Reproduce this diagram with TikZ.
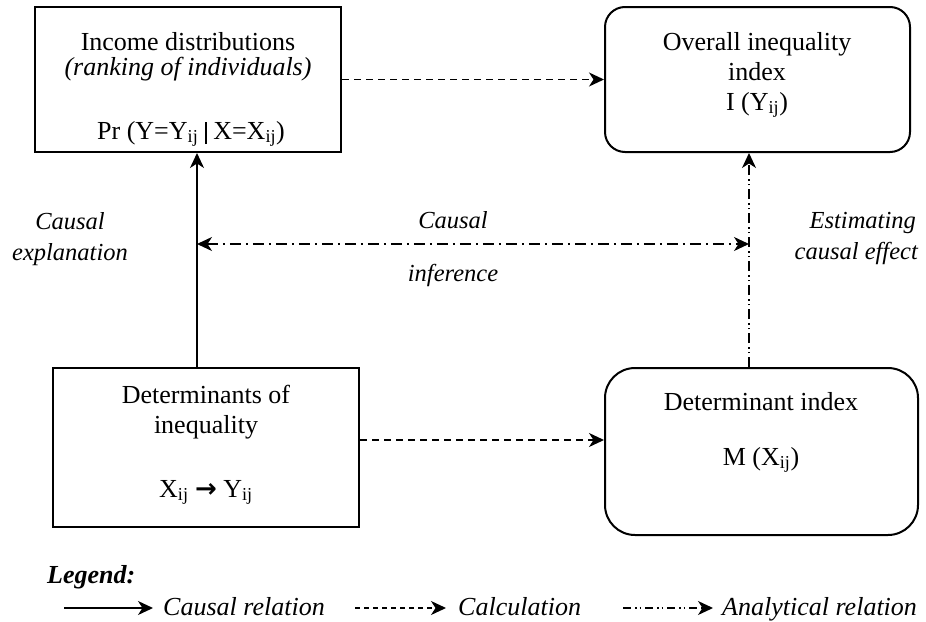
\documentclass[tikz,border=0pt]{standalone}
\usepackage{fontspec}
\setmainfont{Liberation Serif}
\newfontfamily\symfont{DejaVu Sans}
\usetikzlibrary{arrows.meta}
\newcommand\sbij{\textsubscript{ij}}
\tikzset{
  txt/.style={font=\fontsize{26}{30}\selectfont, inner sep=0pt, anchor=base},
  itxt/.style={font=\fontsize{24.5}{30}\selectfont\itshape, inner sep=0pt, anchor=base},
  box/.style={draw, line width=2pt, inner sep=0pt},
  headtip/.tip={Stealth[length=15pt,width=14pt,inset=4.5pt]},
  causalline/.style={-headtip, line width=1.6pt},
  calcline/.style={-headtip, line width=1.6pt, dash pattern=on 7pt off 5pt},
  anaH/.style={headtip-headtip, line width=1.6pt, dash pattern=on 11pt off 5pt on 2pt off 5pt},
  anaV/.style={-headtip, line width=1.4pt, dash pattern=on 10pt off 4pt on 1.5pt off 3pt on 1.5pt off 4pt},
  legcalc/.style={-headtip, line width=1.6pt, dash pattern=on 5pt off 4pt},
  legana/.style={-headtip, line width=1.6pt, dash pattern=on 8pt off 4pt on 1.5pt off 3pt on 1.5pt off 4pt},
}
\begin{document}
\begin{tikzpicture}[x=1pt,y=-1pt]
\useasboundingbox (0,0) rectangle (926,621);
% boxes
\node[box, minimum width=306pt, minimum height=145pt] (inc) at (188,79.5) {};
\node[box, rounded corners=20pt, minimum width=305pt, minimum height=145pt] (ov) at (757.5,79.5) {};
\node[box, minimum width=306pt, minimum height=159pt] (det) at (206,447.5) {};
\node[box, rounded corners=30pt, minimum width=313pt, minimum height=167pt] (di) at (761.5,451.5) {};
% box texts
\node[txt] (inc1) at (188,50) {Income distributions};
\node[txt, font=\fontsize{26}{30}\selectfont\itshape] (inc2) at (188,75) {(ranking of individuals)};
\node[txt] (inc3) at (191,139) {Pr (Y=Y\sbij{} \raisebox{-5pt}{\rule{2pt}{22pt}} X=X\sbij)};
\node[txt] (ov1) at (757,50) {Overall inequality};
\node[txt] (ov2) at (757,80) {index};
\node[txt] (ov3) at (757,110) {I (Y\sbij)};
\node[txt] (det1) at (206,403) {Determinants of};
\node[txt] (det2) at (206,433) {inequality};
\node[txt] (det3) at (206,497) {X\sbij\ {\symfont\bfseries →} Y\sbij};
\node[txt] (di1) at (761,410) {Determinant index};
\node[txt] (di2) at (761,465) {M (X\sbij)};
% connectors
\coordinate (cx) at (197,0);
\coordinate (vx) at (749,0);
\coordinate (hy) at (0,244);
\coordinate (ly) at (0,440);
\coordinate (hl) at (cx |- hy);
\coordinate (hr) at (vx |- hy);
\draw[causalline] (det.north -| cx) -- (inc.south -| cx);
\draw[calcline] (inc.east) -- (ov.west);
\draw[calcline] (det.east |- ly) -- (di.west |- ly);
\draw[anaV] (di.north -| vx) -- (ov.south -| vx);
\draw[anaH] (hl) -- (hr);
% connector labels
\node[itxt] (lc1) at (70,229) {Causal};
\node[itxt] (lc2) at (70,260) {explanation};
\node[itxt] (mc1) at (453,228) {Causal};
\node[itxt] (mc2) at (453,281) {inference};
\node[itxt, anchor=base east] (rc1) at (916,228) {Estimating};
\node[itxt, anchor=base east] (rc2) at (918,259) {causal effect};
% legend
\node[txt, font=\fontsize{26}{30}\selectfont\bfseries\itshape, anchor=base west] (leg) at (47,583) {Legend:};
\coordinate (a1) at (64,608);
\coordinate (a2) at (153,608);
\coordinate (b1) at (355,608);
\coordinate (b2) at (446,608);
\coordinate (c1) at (623,608);
\coordinate (c2) at (713,608);
\draw[causalline] (a1) -- (a2);
\draw[legcalc] (b1) -- (b2);
\draw[legana] (c1) -- (c2);
\node[txt, font=\fontsize{26}{30}\selectfont\itshape, anchor=base west] (l1) at (163,615) {Causal relation};
\node[txt, font=\fontsize{26}{30}\selectfont\itshape, anchor=base west] (l2) at (458,615) {Calculation};
\node[txt, font=\fontsize{26}{30}\selectfont\itshape, anchor=base west] (l3) at (722,615) {Analytical relation};
\end{tikzpicture}
\end{document}
